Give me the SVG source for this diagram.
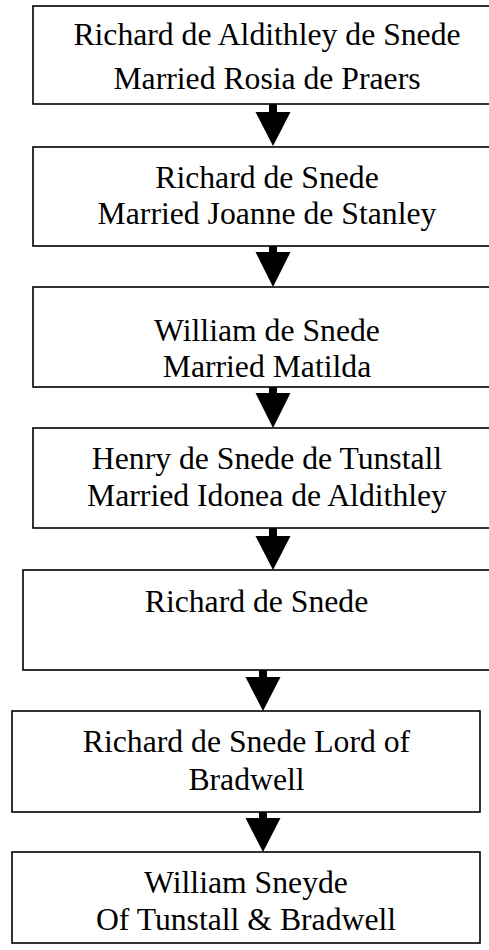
<svg xmlns="http://www.w3.org/2000/svg" width="489" height="950" viewBox="0 0 489 950">
<style>
.box{fill:#fff;stroke:#000;stroke-width:1.6}
.t{font-family:"Liberation Serif","Times New Roman",serif;font-size:31.7px;fill:#000;text-anchor:middle}
.arr{fill:#000;stroke:none}
</style>
<rect width="489" height="950" fill="#fff"/>
<g id="connectors">
<path class="arr" d="M269,104 H277 V112 H290.5 L273,146 L255.5,112 H269 Z"/>
<path class="arr" d="M269,246 H277 V252 H290.5 L273,287 L255.5,252 H269 Z"/>
<path class="arr" d="M269,387 H277 V393 H290.5 L273,428 L255.5,393 H269 Z"/>
<path class="arr" d="M269,528 H277 V536 H290.5 L273,570 L255.5,536 H269 Z"/>
<path class="arr" d="M259,670 H267 V677 H280.5 L263,711 L245.5,677 H259 Z"/>
<path class="arr" d="M259,812 H267 V818 H280.5 L263,852 L245.5,818 H259 Z"/>
</g>
<g id="n1">
<rect class="box" x="33" y="6" width="468" height="98"/>
<text class="t" x="267" y="45">Richard de Aldithley de Snede</text>
<text class="t" x="267" y="89">Married Rosia de Praers</text>
</g>
<g id="n2">
<rect class="box" x="33" y="147" width="468" height="99"/>
<text class="t" x="267" y="188">Richard de Snede</text>
<text class="t" x="267" y="224">Married Joanne de Stanley</text>
</g>
<g id="n3">
<rect class="box" x="33" y="287" width="468" height="100"/>
<text class="t" x="267" y="341">William de Snede</text>
<text class="t" x="267" y="377">Married Matilda</text>
</g>
<g id="n4">
<rect class="box" x="33" y="428" width="468" height="100"/>
<text class="t" x="267" y="469">Henry de Snede de Tunstall</text>
<text class="t" x="267" y="506">Married Idonea de Aldithley</text>
</g>
<g id="n5">
<rect class="box" x="23" y="570" width="467" height="100"/>
<text class="t" x="256.5" y="612">Richard de Snede</text>
</g>
<g id="n6">
<rect class="box" x="12" y="711" width="468" height="101"/>
<text class="t" x="246.5" y="752">Richard de Snede Lord of</text>
<text class="t" x="246.5" y="790">Bradwell</text>
</g>
<g id="n7">
<rect class="box" x="12" y="852" width="468" height="91"/>
<text class="t" x="246" y="893">William Sneyde</text>
<text class="t" x="246" y="930">Of Tunstall &amp; Bradwell</text>
</g>
</svg>
